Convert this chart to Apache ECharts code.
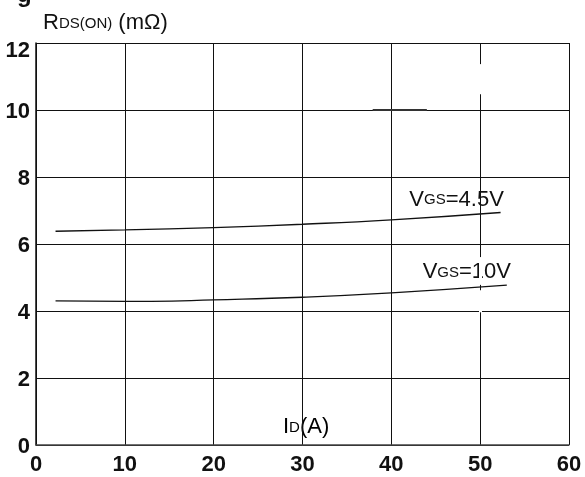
<!DOCTYPE html>
<html>
<head>
<meta charset="utf-8">
<script src="https://cdn.jsdelivr.net/npm/echarts@6/dist/echarts.min.js"></script>
<style>html,body{margin:0;padding:0;background:#fff}#c{width:585px;height:477px}</style>
</head>
<body>
<div id="c"></div>
<script>
var xTicks = [0, 10, 20, 30, 40, 50, 60];
var yTicks = [0, 2, 4, 6, 8, 10, 12];
var idA = [2.2, 10, 20, 30, 40, 52.3];
var vgs45 = [6.38, 6.42, 6.49, 6.59, 6.72, 6.94];
var idB = [2.2, 10, 13, 20, 30, 40, 53];
var vgs10 = [4.30, 4.29, 4.29, 4.33, 4.41, 4.54, 4.77];

var FN = '"Liberation Sans",Arial,sans-serif';
function pairs(xs, ys){ return xs.map(function(x,i){ return [x, ys[i]]; }); }
var richBig = {
  a: {fontFamily: FN, fontSize: 22, fontWeight: 'normal', color: '#111', verticalAlign: 'bottom', lineHeight: 24},
  b: {fontFamily: FN, fontSize: 15, fontWeight: 'normal', color: '#111', verticalAlign: 'bottom', lineHeight: 18, padding: [0, 0, 3, 0]}
};
function endLab(text, off){
  return {show: true, formatter: text, distance: 0, offset: off, align: 'center', verticalAlign: 'middle', rich: richBig};
}
var chart = echarts.init(document.getElementById('c'), null, {renderer: 'canvas'});
chart.setOption({
  animation: false,
  title: {
    text: '{a|R}{b|DS(ON)}{a| (mΩ)}',
    left: 38, top: 5,
    textStyle: {fontWeight: 'normal', rich: richBig}
  },
  graphic: [
    {type: 'text', left: 17, top: -17, style: {text: 'g', font: 'bold 24px ' + FN, fill: '#111'}},
    {type: 'text', left: 283, top: 416, style: {text: '{a|I}{b|D}{a|(A)}', rich: richBig}}
  ],
  grid: {left: 36, right: 16, top: 43, bottom: 32, containLabel: false, outerBoundsMode: 'none'},
  xAxis: {
    type: 'value', min: xTicks[0], max: xTicks[xTicks.length-1], interval: 10,
    axisLine: {show: true, lineStyle: {color: '#444', width: 1.5}},
    axisTick: {show: false},
    axisLabel: {fontFamily: FN, fontSize: 22, fontWeight: 'bold', color: '#111', margin: 9},
    splitLine: {show: true, lineStyle: {color: '#111', width: 1}}
  },
  yAxis: {
    type: 'value', min: yTicks[0], max: yTicks[yTicks.length-1], interval: 2,
    axisLine: {show: true, lineStyle: {color: '#111', width: 1.5}},
    axisTick: {show: false},
    axisLabel: {fontFamily: FN, fontSize: 22, fontWeight: 'bold', color: '#111', margin: 6, padding: [3, 0, 0, 0],
      formatter: function(v){ return v === yTicks[yTicks.length-1] ? '{t|' + v + '}' : String(v); },
      rich: {t: {fontFamily: FN, fontSize: 22, fontWeight: 'bold', color: '#111', padding: [12, 0, 0, 0]}}},
    splitLine: {show: true, lineStyle: {color: '#111', width: 1}}
  },
  series: [
    {type: 'line', z: 1, data: [], symbol: 'none', silent: true,
     markLine: {silent: true, symbol: 'none', label: {show: false},
       data: [
         [{coord: [50, 11.37], lineStyle: {color: '#fff', width: 3, type: 'solid'}}, {coord: [50, 10.47]}],
         [{coord: [50, 5.61], lineStyle: {color: '#fff', width: 3, type: 'solid'}}, {coord: [50, 4.78]}],
         [{coord: [50, 4.62], lineStyle: {color: '#fff', width: 3, type: 'solid'}}, {coord: [50, 3.96]}],
         [{coord: [37.9, 10], lineStyle: {color: '#333', width: 2.2, type: 'solid'}}, {coord: [44, 10]}]
       ]}},
    {type: 'line', z: 3, smooth: true, symbol: 'none', showSymbol: false,
     lineStyle: {color: '#111', width: 1.3},
     endLabel: endLab('{a|V}{b|GS}{a|=4.5V}', [-44, -14]),
     data: pairs(idA, vgs45)},
    {type: 'line', z: 3, smooth: true, symbol: 'none', showSymbol: false,
     lineStyle: {color: '#111', width: 1.3},
     endLabel: endLab('{a|V}{b|GS}{a|=10V}', [-40, -14]),
     data: pairs(idB, vgs10)}
  ]
});
</script>
</body>
</html>
